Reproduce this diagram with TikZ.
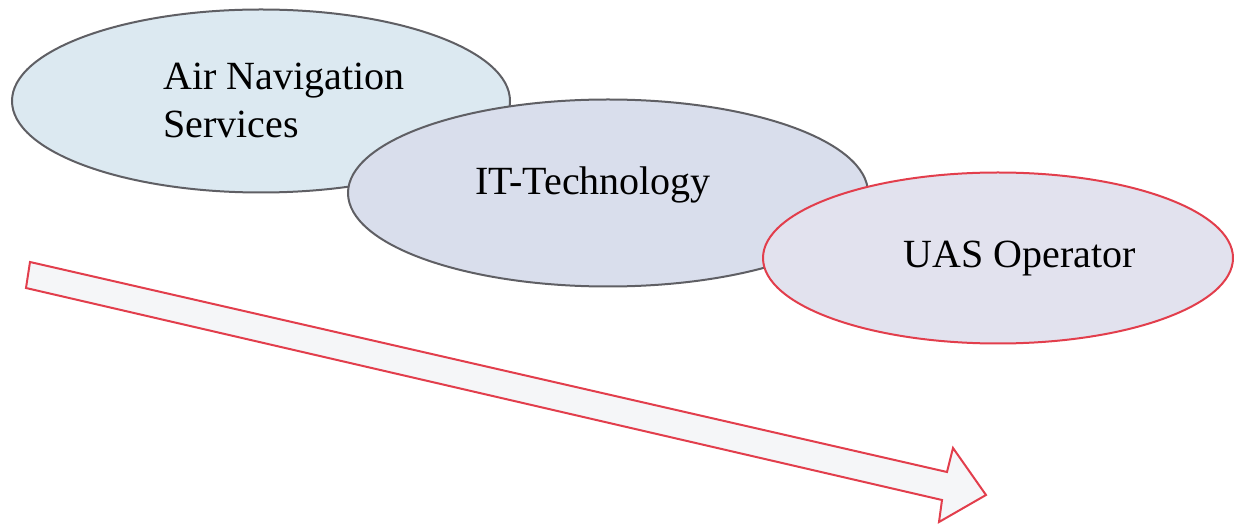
\documentclass[tikz,border=0pt]{standalone}
\usepackage{fontspec}
\setmainfont{Liberation Serif}
\usetikzlibrary{shapes.geometric}

\definecolor{ansfill}{RGB}{220,233,241}
\definecolor{itfill}{RGB}{217,222,236}
\definecolor{uasfill}{RGB}{226,226,238}
\definecolor{rimgray}{RGB}{95,95,100}
\definecolor{rimred}{RGB}{226,62,76}
\definecolor{arrowfill}{RGB}{245,246,248}

\tikzset{
  blob/.style={ellipse, inner sep=0pt, line width=2pt, draw=rimgray},
  lbl/.style={inner sep=0pt, font=\fontsize{40}{48}\selectfont, text=black},
}

\begin{document}
\begin{tikzpicture}[x=1pt, y=-1pt]
  \useasboundingbox (0,0) rectangle (1234,526);

  % overlapping stakeholder ellipses
  \node[blob, fill=ansfill, minimum width=498pt, minimum height=183pt] (ans) at (261,101) {};
  \node[blob, fill=itfill, minimum width=520pt, minimum height=187pt] (it) at (608,193) {};
  \node[blob, fill=uasfill, draw=rimred, minimum width=470pt, minimum height=171pt] (uas) at (998,258) {};

  % labels
  \node[lbl, align=left, anchor=north west] (ansl) at (163,63) {Air Navigation\\Services};
  \node[lbl, anchor=base] (itl) at (593,195) {IT-Technology};
  \node[lbl, anchor=base] (uasl) at (1020,268) {UAS Operator};

  % hollow direction arrow
  \coordinate (tailtop) at (30,262);
  \coordinate (necktop) at (947,472);
  \coordinate (barbtop) at (953,448);
  \coordinate (tip) at (986,495);
  \coordinate (barbbot) at (939,522);
  \coordinate (neckbot) at (942,500);
  \coordinate (tailbot) at (26,288);
  \draw[draw=rimred, fill=arrowfill, line width=2pt, line join=miter]
    (tailtop) -- (necktop) -- (barbtop) -- (tip) -- (barbbot) -- (neckbot) -- (tailbot) -- cycle;
\end{tikzpicture}
\end{document}
